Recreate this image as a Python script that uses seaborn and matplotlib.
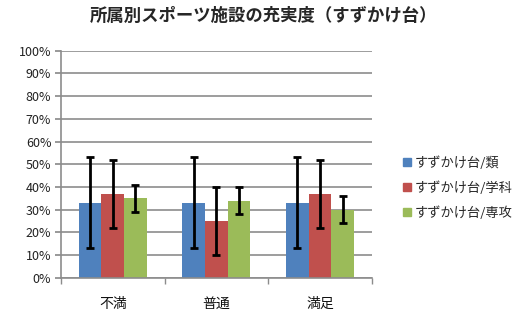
import matplotlib
matplotlib.use("Agg")
import matplotlib.pyplot as plt
import seaborn as sns
import pandas as pd
import numpy as np
from matplotlib.ticker import PercentFormatter
from matplotlib.lines import Line2D

categories = ["不満", "普通", "満足"]
series = ["すずかけ台/類", "すずかけ台/学科", "すずかけ台/専攻"]
values_rui = [33, 33, 33]
values_gakka = [37, 25, 37]
values_senko = [35, 34, 30]
err_rui = [20, 20, 20]
err_gakka = [15, 15, 15]
err_senko = [6, 6, 6]
colors = ["#4F81BD", "#C0504D", "#9BBB59"]
title = "所属別スポーツ施設の充実度（すずかけ台）"

sns.set_theme(style="white")
plt.rcParams['font.family'] = ['Noto Sans CJK JP', 'DejaVu Sans']

vals = [values_rui, values_gakka, values_senko]
errs = [err_rui, err_gakka, err_senko]
rows = []
for s, v in zip(series, vals):
    for c, x in zip(categories, v):
        rows.append({"cat": c, "series": s, "val": x})
df = pd.DataFrame(rows)

fig = plt.figure(figsize=(5.28, 3.25), dpi=100)
ax = fig.add_axes([0.1155, 0.1455, 0.589, 0.6985])
sns.barplot(data=df, x="cat", y="val", hue="series", palette=colors,
            width=0.656, errorbar=None, ax=ax, saturation=1, legend=False,
            linewidth=0, zorder=2)

# error bars from bar patches
patches = [p for p in ax.patches]
for i, s in enumerate(series):
    ps = patches[i * 3:(i + 1) * 3]
    xs = [p.get_x() + p.get_width() / 2 for p in ps]
    ax.errorbar(xs, vals[i], yerr=errs[i], fmt='none', ecolor='black',
                elinewidth=2, capsize=3, capthick=2, zorder=3)

ax.set_ylim(0, 100)
ax.set_xlim(-0.5, 2.5)
ax.set_yticks(np.arange(0, 101, 10))
ax.yaxis.set_major_formatter(PercentFormatter(decimals=0))
ax.yaxis.grid(True, color="#8c8c8c", linewidth=1.2, zorder=0)
ax.set_axisbelow(True)
ax.set_xlabel("")
ax.set_ylabel("")
for sp in ["top", "right"]:
    ax.spines[sp].set_visible(False)
ax.spines["left"].set_color("#8c8c8c")
ax.spines["bottom"].set_color("#8c8c8c")
ax.spines["left"].set_linewidth(1.2)
ax.spines["bottom"].set_linewidth(1.2)
ax.tick_params(axis="y", which="both", left=True, length=4, color="#8c8c8c",
               labelsize=9, pad=3, labelcolor="#222222")
ax.set_xticks([0, 1, 2])
ax.set_xticklabels(categories, fontsize=10)
ax.tick_params(axis="x", bottom=False, pad=8, labelcolor="#111111")
ax.set_xticks([-0.5, 0.5, 1.5, 2.5], minor=True)
ax.tick_params(axis="x", which="minor", bottom=True, length=4, color="#8c8c8c")

handles = [Line2D([0], [0], marker='s', linestyle='none', markersize=6,
                  markerfacecolor=c, markeredgecolor=c) for c in colors]
fig.legend(handles, series, loc="upper left", bbox_to_anchor=(0.735, 0.555),
           frameon=False, fontsize=9.5, handletextpad=0.1, labelspacing=0.85,
           handlelength=1.0)

fig.text(0.5, 0.95, title, ha="center", va="center", fontsize=12.5,
         fontweight="bold")

fig.savefig("out.png", dpi=100)
